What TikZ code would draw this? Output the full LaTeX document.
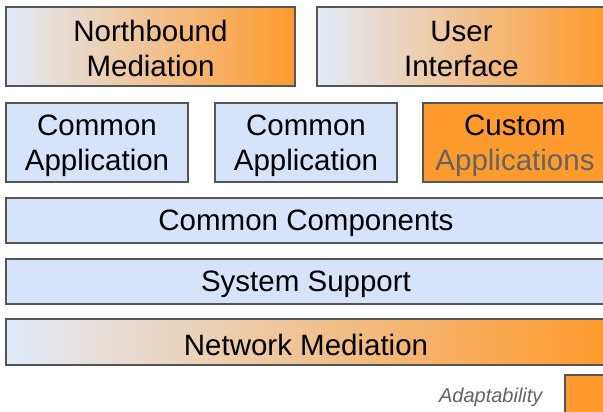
\documentclass[tikz,border=0pt]{standalone}
\usepackage{fontspec}
\setmainfont{Liberation Sans}
\definecolor{boxblue}{RGB}{213,228,251}
\definecolor{boxorange}{RGB}{255,154,44}
\definecolor{paleblue}{RGB}{226,235,249}
\definecolor{edgegray}{RGB}{85,85,85}
\definecolor{textgray}{RGB}{100,100,100}
\begin{document}
\begin{tikzpicture}[x=1pt,y=-1pt,
    layer/.style={draw=edgegray,line width=1.2pt,inner sep=0pt},
    plainbox/.style={layer,fill=boxblue},
    customboxx/.style={layer,fill=boxorange},
    fadebox/.style={layer,left color=paleblue,right color=boxorange},
    boxtext/.style={align=center,inner sep=0pt,yshift=-3pt,font=\fontsize{29.5}{35}\selectfont},]
    \clip (0,0) rectangle (603,412);
    \fill[white] (0,0) rectangle (603,412);
    \node (north) at (150.5,46.5) [fadebox,minimum width=289pt,minimum height=79pt] {};
    \node (ui) at (461.5,46.5) [fadebox,minimum width=289pt,minimum height=79pt] {};
    \node (appa) at (97,142.5) [plainbox,minimum width=182pt,minimum height=79pt] {};
    \node (appb) at (306,142.5) [plainbox,minimum width=182pt,minimum height=79pt] {};
    \node (custom) at (515,142.5) [customboxx,minimum width=184pt,minimum height=79pt] {};
    \node (comp) at (306,220.5) [plainbox,minimum width=600pt,minimum height=45pt] {};
    \node (sys) at (306,281.5) [plainbox,minimum width=600pt,minimum height=45pt] {};
    \node (netmed) at (306,342) [fadebox,minimum width=600pt,minimum height=46pt] {};
    \node (northtext) at (north) [boxtext,yshift=1pt] {Northbound\\Mediation};
    \node (uitext) at (ui) [boxtext,yshift=1pt] {User\\Interface};
    \node (appatext) at (appa) [boxtext] {Common\\Application};
    \node (appbtext) at (appb) [boxtext] {Common\\Application};
    \node (customtext) at (custom) [boxtext] {Custom\\\textcolor{textgray}{Applications}};
    \node (comptext) at (comp) [boxtext] {Common Components};
    \node (systext) at (sys) [boxtext] {System Support};
    \node (netmedtext) at (netmed) [boxtext] {Network Mediation};
    \node (keybox) at (588,398) [customboxx,minimum width=46pt,minimum height=46pt] {};
    \node (keytext) [anchor=east,text=textgray,font=\fontsize{20}{24}\selectfont\itshape] at (546,397) {Adaptability};
\end{tikzpicture}
\end{document}
